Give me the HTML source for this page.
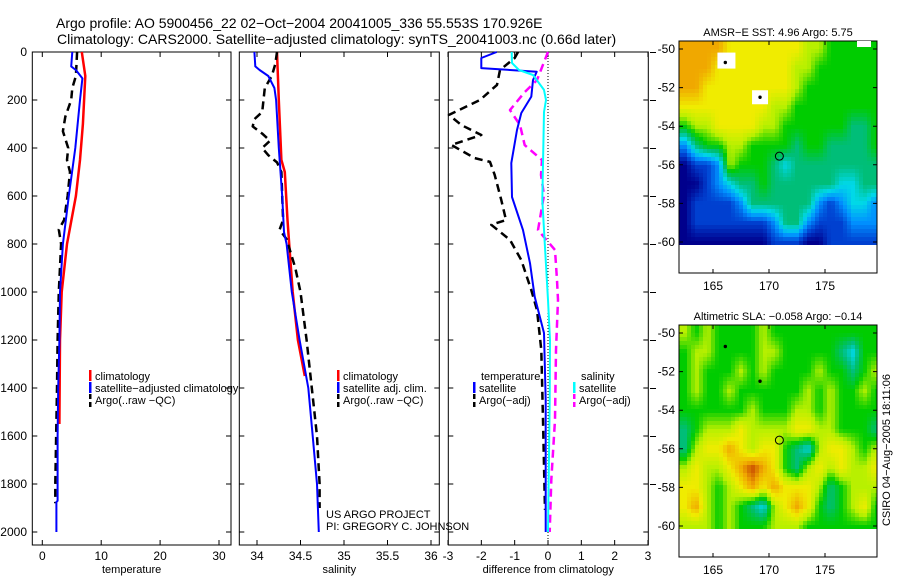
<!DOCTYPE html>
<html><head><meta charset="utf-8"><style>
body{margin:0;background:#fff}
svg{display:block;font-family:"Liberation Sans",sans-serif}
</style></head><body>
<svg id="c" width="900" height="580" viewBox="0 0 900 580">
<defs>
<clipPath id="cp1"><rect x="679" y="41" width="198" height="204"/></clipPath>
<clipPath id="cp2"><rect x="679" y="325" width="198" height="204"/></clipPath>
</defs>
<text x="56" y="28" font-size="14">Argo profile: AO 5900456_22 02−Oct−2004 20041005_336 55.553S 170.926E</text>
<text x="57" y="44" font-size="14">Climatology: CARS2000. Satellite−adjusted climatology: synTS_20041003.nc (0.66d later)</text>
<g id="g"></g>
</svg>
<script>
// ---------- data ----------
const depthTicks=[0,200,400,600,800,1000,1200,1400,1600,1800,2000];
const tempTicks=[0,10,20,30];
const salTicks=[34,34.5,35,35.5,36];
const diffTicks=[-3,-2,-1,0,1,2,3];
const tClimD=[0,100,300,450,600,800,1000,1200,1550];
const tClimV=[6.7,7.3,6.9,6.4,5.7,4.2,3.3,3.0,2.9];
const tSatD=[0,60,75,110,200,400,600,800,1000,1200,1400,1600,1870,1875,2000];
const tSatV=[5.1,4.9,5.7,6.8,6.4,5.6,4.5,3.5,3.0,2.9,2.7,2.6,2.6,2.4,2.4];
const tArgoD=[0,100,150,200,270,330,400,450,500,600,700,740,800,1000,1200,1400,1800,1880];
const tArgoV=[5.9,5.7,5.1,4.9,3.9,3.5,4.4,4.2,4.7,4.3,3.7,2.8,3.2,2.8,2.6,2.5,2.2,2.2];
const sClimD=[0,200,450,500,700,800,1000,1200,1350];
const sClimV=[34.23,34.25,34.28,34.32,34.35,34.37,34.41,34.47,34.55];
const sSatD=[0,60,75,100,150,200,400,600,750,800,1000,1200,1400,1600,1800,2000];
const sSatV=[33.97,33.98,34.03,34.13,34.2,34.22,34.25,34.29,34.31,34.34,34.40,34.49,34.59,34.64,34.69,34.71];
const sArgoD=[0,50,100,150,250,280,310,340,370,400,430,460,500,600,700,740,780,900,1000,1200,1400,1600,1800,1900];
const sArgoV=[34.23,34.21,34.17,34.09,34.06,33.97,33.95,34.06,34.15,34.06,34.13,34.23,34.28,34.29,34.3,34.26,34.34,34.44,34.5,34.57,34.63,34.69,34.72,34.72];
const dTSatD=[0,25,67,82,117,186,254,325,463,604,742,880,1020,1171,1450,2000];
const dTSatV=[-1.54,-2.0,-2.0,-0.34,-0.45,-0.5,-0.8,-0.93,-1.1,-1.08,-0.75,-0.54,-0.4,-0.12,-0.07,-0.07];
const dSSatD=[0,46,75,96,158,200,250,617,1033,1200,1450,2000];
const dSSatV=[-1.09,-1.08,-0.87,-0.45,-0.12,-0.06,-0.12,-0.17,0,0.06,0.05,0];
const dTArgoD=[0,25,75,137,200,262,304,346,387,442,458,512,617,700,720,783,867,992,1075,1242,1533,1908];
const dTArgoV=[-0.9,-1.0,-1.44,-1.53,-2.04,-2.97,-2.6,-2.0,-2.9,-2.2,-1.74,-1.6,-1.4,-1.26,-1.7,-1.14,-0.8,-0.5,-0.33,-0.2,-0.15,-0.09];
const dSArgoD=[0,42,117,167,242,304,388,450,512,596,742,825,950,1033,1242,1533,1783,2000];
const dSArgoV=[0,-0.12,-0.33,-0.7,-1.14,-0.84,-0.7,-0.18,-0.21,-0.12,-0.3,0.21,0.27,0.3,0.24,0.21,0.1,0.05];
const lonTicks=[165,170,175];
const latTicks=[-50,-52,-54,-56,-58,-60];
const sstGrid=[
[8,8,8,8,7,7,7,7,7,7,7,6,6,5,5,5,5,5],
[8,8,8,7,7,7,7,7,7,7,6,6,5,5,5,5,5,5],
[8,8,7,7,7,7,7,7,7,7,6,5,5,5,5,5,5,5],
[7,7,7,7,7,7,7,7,6,6,5,5,5,5,5,5,5,5],
[5,6,6,7,7,7,7,6,6,5,5,5,5,5,5,4,4,5],
[2,4,5,5,6,6,5,5,5,5,4,5,5,4,4,4,4,5],
[0,1,1,2,6,5,5,5,4,3,4,4,4,4,4,4,4,4],
[0,0,1,2,3,4,4,5,4,4,4,4,4,4,3,3,4,4],
[0,1,1,1,1,2,4,4,4,4,4,4,2,1,2,3,3,2],
[0,1,1,1,1,1,1,1,2,4,4,2,1,1,1,2,2,2],
[0,0,0,0,0,0,0,0,1,1,1,0,0,1,1,1,1,1]];
const slaGrid=[
[6,5,6,5,5,5,5,6,5,5,5,5,5,5,5,5,5,5],
[5,6,6,5,5,5,5,6,6,5,5,5,5,5,4,3,5,5],
[5,6,5,5,5,6,5,6,5,5,5,5,6,5,5,4,5,6],
[5,6,5,5,6,5,5,5,5,5,5,6,5,6,5,5,6,5],
[5,5,5,5,5,5,6,5,5,5,6,6,5,6,5,5,5,5],
[4,5,6,6,6,7,6,6,6,6,7,7,6,6,5,5,5,4],
[4,6,7,7,8,7,6,7,7,5,4,3,6,7,7,6,5,6],
[6,7,6,6,7,8,9,8,7,5,4,6,7,6,7,6,6,7],
[7,7,6,5,6,7,8,7,8,7,7,7,6,4,5,6,6,6],
[7,8,6,5,6,5,4,3,6,7,8,7,5,4,5,6,7,5],
[6,6,6,5,6,5,5,5,6,6,6,5,5,5,5,5,5,5]];
const gridLon0=162, gridLat0=-49.5;
const floatLon=170.926, floatLat=-55.553;
const palette=[[0,0,140],[0,64,208],[0,144,255],[0,216,232],[0,190,120],[0,204,0],[184,240,0],[240,236,0],[240,168,0],[200,72,0]];

// ---------- helpers ----------
const NS='http://www.w3.org/2000/svg';
const G=document.getElementById('g');
function el(t,a,txt){const e=document.createElementNS(NS,t);for(const k in a)e.setAttribute(k,a[k]);if(txt!==undefined)e.textContent=txt;G.appendChild(e);return e;}
const yD=d=>52+d*0.24;
const panels=[
 {x0:32.3,x1:231,fx:v=>42.3+v*5.89,ticks:tempTicks,lab:'temperature',name:'temperature'},
 {x0:239.3,x1:439.3,fx:v=>257+(v-34)*87,ticks:salTicks,lab:'salinity',name:'salinity'},
 {x0:448.3,x1:648.3,fx:v=>548+v*33.33,ticks:diffTicks,lab:'difference from climatology',name:'difference'}];
panels.forEach((p,i)=>{
 const r=el('rect',{x:p.x0,y:52,width:p.x1-p.x0,height:493,fill:'none',stroke:'#000','stroke-width':1});
 
 
 depthTicks.forEach(d=>{
  const t=el('path',{d:`M${p.x0},${yD(d)}h5M${p.x1},${yD(d)}h-5`,stroke:'#000'});
  
  
 });
 p.ticks.forEach(v=>{
  const x=p.fx(v);
  const t=el('path',{d:`M${x},545v-5M${x},52v5`,stroke:'#000'});
  
  
  const l=el('text',{x:x,y:560,'font-size':12,'text-anchor':'middle'},String(v));
  
  
 });
 const a=el('text',{x:(p.x0+p.x1)/2,y:573,'font-size':11,'text-anchor':'middle'},p.lab);
 
 
});
depthTicks.forEach(d=>{
 const l=el('text',{x:27,y:yD(d)+4,'font-size':12,'text-anchor':'end'},String(d));
 
 
});
depthTicks.slice(0,10).forEach(d=>{
 const t=el('path',{d:`M650,${yD(d)+0.5}h6`,stroke:'#000'});
 
 
});
const zl=el('path',{d:`M548,52V545`,stroke:'#000','stroke-dasharray':'1,2'});



function line(p,D,V,color,w,dash,name){
 const pts=D.map((d,i)=>p.fx(V[i]).toFixed(1)+','+yD(d).toFixed(1)).join(' ');
 const a={points:pts,fill:'none',stroke:color,'stroke-width':w,'stroke-linejoin':'round'};
 if(dash)a['stroke-dasharray']=dash;
 const e=el('polyline',a);
 
 
}
const P=panels;
line(P[0],tClimD,tClimV,'#f00',2.5,null,'temp-climatology-line');
line(P[0],tArgoD,tArgoV,'#000',2.5,'8,5','temp-argo-line');
line(P[0],tSatD,tSatV,'#00f',2,null,'temp-satellite-line');
line(P[1],sClimD,sClimV,'#f00',2.5,null,'sal-climatology-line');
line(P[1],sArgoD,sArgoV,'#000',2.5,'8,5','sal-argo-line');
line(P[1],sSatD,sSatV,'#00f',2,null,'sal-satellite-line');
line(P[2],dTArgoD,dTArgoV,'#000',2.5,'8,5','diff-temp-argo-line');
line(P[2],dSArgoD,dSArgoV,'#f0f',2.5,'8,5','diff-sal-argo-line');
line(P[2],dTSatD,dTSatV,'#00f',2,null,'diff-temp-satellite-line');
line(P[2],dSSatD,dSSatV,'#0ff',2,null,'diff-sal-satellite-line');

function legend(x,y,color,dash,txt,name){
 if(color){const b=el('rect',{x:x,y:y-10,width:2.5,height:dash?5:11,fill:color});
  
  if(dash){const b2=el('rect',{x:x,y:y-2,width:2.5,height:5,fill:color});}}
 const t=el('text',{x:x+6,y:y,'font-size':11},txt);
 
 
}
legend(89,380,'#f00',false,'climatology','legend-climatology');
legend(89,392,'#00f',false,'satellite−adjusted climatology','legend-satellite');
legend(89,404,'#000',true,'Argo(..raw −QC)','legend-argo');
legend(337,380,'#f00',false,'climatology','legend2-climatology');
legend(337,392,'#00f',false,'satellite adj. clim.','legend2-satellite');
legend(337,404,'#000',true,'Argo(..raw −QC)','legend2-argo');
legend(475,380,null,false,'temperature','legend-temperature-heading');
legend(473,392,'#00f',false,'satellite','legend3-temp-satellite');
legend(473,404,'#000',true,'Argo(−adj)','legend3-temp-argo');
legend(575,380,null,false,'salinity','legend-salinity-heading');
legend(573,392,'#0ff',false,'satellite','legend3-sal-satellite');
legend(573,404,'#f0f',true,'Argo(−adj)','legend3-sal-argo');
legend(320,518,null,false,'US ARGO PROJECT','us-argo-credit');
legend(320,530,null,false,'PI: GREGORY C. JOHNSON','pi-credit');

// ---------- maps ----------
function sample(grid,fr,fc){
 const R=grid.length-1,C=grid[0].length-1;
 fr=Math.max(0,Math.min(R,fr));fc=Math.max(0,Math.min(C,fc));
 const r0=Math.floor(fr),c0=Math.floor(fc),r1=Math.min(R,r0+1),c1=Math.min(C,c0+1);
 const a=fr-r0,b=fc-c0;
 return grid[r0][c0]*(1-a)*(1-b)+grid[r0][c1]*(1-a)*b+grid[r1][c0]*a*(1-b)+grid[r1][c1]*a*b;
}
function color(v){
 v=Math.max(0,Math.min(9,v));const i=Math.min(8,Math.floor(v)),f=v-i;
 const c=palette[i].map((x,k)=>Math.round(x+(palette[i+1][k]-x)*f));
 return `rgb(${c[0]},${c[1]},${c[2]})`;
}
function map(top,grid,title,name,clip){
 const lat50=top+8, sy=19.3, sx=11.2, lon165=713;
 const fx=l=>lon165+(l-165)*sx, fy=l=>lat50+(-50-l)*sy;
 const g=document.createElementNS(NS,'g');
 g.setAttribute('clip-path',`url(#${clip})`);
 
 
 const step=4;
 for(let y=top;y<top+206;y+=step){
  for(let x=679;x<877;x+=step){
   const lon=165+(x+step/2-lon165)/sx, lat=-50-(y+step/2-lat50)/sy;
   const v=sample(grid,(gridLat0-lat)-0.5,(lon-gridLon0)-0.5);
   const e=document.createElementNS(NS,'rect');
   e.setAttribute('x',x);e.setAttribute('y',y);
   e.setAttribute('width',step+0.3);e.setAttribute('height',step+0.3);
   e.setAttribute('fill',color(v));
   
   
   g.appendChild(e);
  }
 }
 G.appendChild(g);
 const f=el('rect',{x:679,y:top,width:198,height:232,fill:'none',stroke:'#000'});
 
 
 const t=el('text',{x:778,y:top-5,'font-size':11,'text-anchor':'middle'},title);
 
 
 lonTicks.forEach(l=>{
  const k=el('path',{d:`M${fx(l)},${top}v4M${fx(l)},${top+232}v-4`,stroke:'#000'});
  
  const s=el('text',{x:fx(l),y:top+249,'font-size':12,'text-anchor':'middle'},String(l));
  
 });
 latTicks.forEach(l=>{
  const k=el('path',{d:`M679,${fy(l)}h4M877,${fy(l)}h-4`,stroke:'#000'});
  
  const s=el('text',{x:675,y:fy(l)+4,'font-size':12,'text-anchor':'end'},String(l));
  
 });
 if(name==='sst-map'){
  [[166.2,-50.6,9],[169.2,-52.5,8]].forEach(b=>{const w=el('rect',{x:fx(b[0])-b[2],y:fy(b[1])-b[2]+1,width:2*b[2],height:2*b[2]-2,fill:'#fff'});});
  const w2=el('rect',{x:857,y:41,width:14,height:6,fill:'#fff'});
 }
 [[166.1,-50.7],[169.2,-52.5]].forEach(b=>{const d=el('circle',{cx:fx(b[0]),cy:fy(b[1]),r:1.7,fill:'#000'});});
 const m=el('circle',{cx:fx(floatLon),cy:fy(floatLat),r:4,fill:'none',stroke:'#000'});
 
 
}
map(41,sstGrid,'AMSR−E SST: 4.96 Argo: 5.75','sst-map','cp1');
map(325,slaGrid,'Altimetric SLA: −0.058 Argo: −0.14','sla-map','cp2');
const cs=el('text',{x:0,y:0,'font-size':11,'text-anchor':'middle',transform:'translate(890,450) rotate(-90)'},'CSIRO 04−Aug−2005 18:11:06');


</script>
</body></html>
